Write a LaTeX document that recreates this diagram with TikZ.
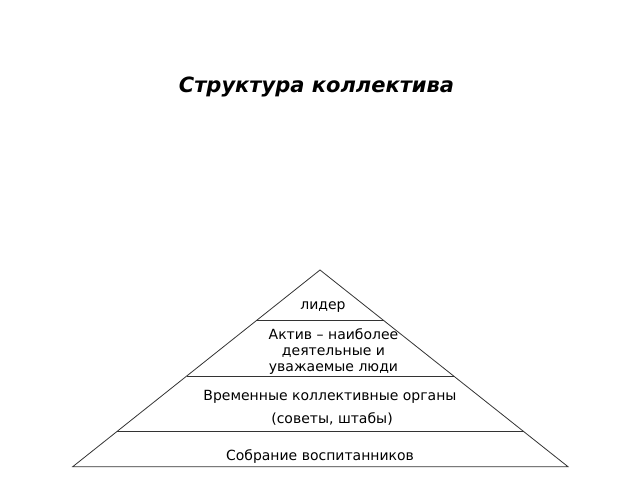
\documentclass[tikz,border=0pt]{standalone}
\usepackage{fontspec}
\setmainfont{DejaVu Sans}
\usetikzlibrary{calc}

\begin{document}
\begin{tikzpicture}[x=1pt,y=1pt,
        every node/.style = {align=center, inner sep=0pt, anchor=base},
        level/.style = {font=\fontsize{14}{16}\selectfont},
        layer/.style = {draw=black!80, line width=0.8pt}]
        \useasboundingbox (0,0) rectangle (640,480);
        \node[font=\fontsize{21}{24}\selectfont\bfseries\itshape] (title) at (316.5, 387) {Структура коллектива};
        \coordinate (top) at (320, 210);
        \coordinate (bl) at (72.7, 13.3);
        \coordinate (br) at (568, 13.3);
        \draw[layer] (top) -- (bl) -- (br) -- cycle;
        \draw[layer] ($(top)!0.258!(bl)$) -- ($(top)!0.258!(br)$);
        \draw[layer] ($(top)!0.539!(bl)$) -- ($(top)!0.539!(br)$);
        \draw[layer] ($(top)!0.822!(bl)$) -- ($(top)!0.822!(br)$);
        \node[level] (1) at (323, 170.7) {лидер};
        \node[level] (2) at (333.5, 108.3) {Актив – наиболее\\деятельные и\\уважаемые люди};
        \node[level] (3) at (330, 79.3) {Временные коллективные органы};
        \node[level] (4) at (332, 56.7) {(советы, штабы)};
        \node[level] (5) at (320, 20) {Собрание воспитанников};
    \end{tikzpicture}
\end{document}
